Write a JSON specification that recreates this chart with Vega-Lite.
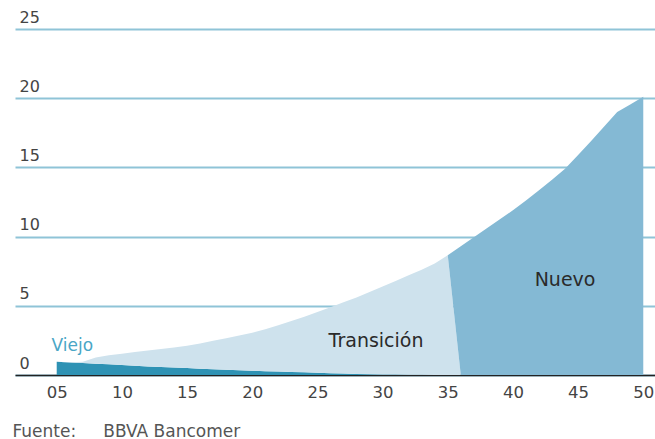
{
  "$schema": "https://vega.github.io/schema/vega-lite/v6.json",
  "autosize": "none",
  "width": 640,
  "height": 346,
  "padding": {"left": 15, "top": 29, "right": 0, "bottom": 64},
  "background": "white",
  "config": {
    "view": {"stroke": null},
    "font": "DejaVu Sans"
  },
  "datasets": {
    "series": [
      {"year": 2005, "Viejo": 0.95, "Transicion": 0.0, "Nuevo": 0},
      {"year": 2006, "Viejo": 0.9, "Transicion": 0.02, "Nuevo": 0},
      {"year": 2007, "Viejo": 0.86, "Transicion": 0.1, "Nuevo": 0},
      {"year": 2008, "Viejo": 0.82, "Transicion": 0.45, "Nuevo": 0},
      {"year": 2009, "Viejo": 0.77, "Transicion": 0.65, "Nuevo": 0},
      {"year": 2010, "Viejo": 0.72, "Transicion": 0.82, "Nuevo": 0},
      {"year": 2011, "Viejo": 0.67, "Transicion": 1.0, "Nuevo": 0},
      {"year": 2012, "Viejo": 0.62, "Transicion": 1.15, "Nuevo": 0},
      {"year": 2013, "Viejo": 0.58, "Transicion": 1.3, "Nuevo": 0},
      {"year": 2014, "Viejo": 0.54, "Transicion": 1.45, "Nuevo": 0},
      {"year": 2015, "Viejo": 0.5, "Transicion": 1.62, "Nuevo": 0},
      {"year": 2016, "Viejo": 0.46, "Transicion": 1.82, "Nuevo": 0},
      {"year": 2017, "Viejo": 0.42, "Transicion": 2.05, "Nuevo": 0},
      {"year": 2018, "Viejo": 0.38, "Transicion": 2.27, "Nuevo": 0},
      {"year": 2019, "Viejo": 0.35, "Transicion": 2.5, "Nuevo": 0},
      {"year": 2020, "Viejo": 0.31, "Transicion": 2.75, "Nuevo": 0},
      {"year": 2021, "Viejo": 0.28, "Transicion": 3.02, "Nuevo": 0},
      {"year": 2022, "Viejo": 0.25, "Transicion": 3.35, "Nuevo": 0},
      {"year": 2023, "Viejo": 0.22, "Transicion": 3.68, "Nuevo": 0},
      {"year": 2024, "Viejo": 0.19, "Transicion": 4.01, "Nuevo": 0},
      {"year": 2025, "Viejo": 0.16, "Transicion": 4.39, "Nuevo": 0},
      {"year": 2026, "Viejo": 0.13, "Transicion": 4.77, "Nuevo": 0},
      {"year": 2027, "Viejo": 0.1, "Transicion": 5.15, "Nuevo": 0},
      {"year": 2028, "Viejo": 0.08, "Transicion": 5.52, "Nuevo": 0},
      {"year": 2029, "Viejo": 0.06, "Transicion": 5.94, "Nuevo": 0},
      {"year": 2030, "Viejo": 0.04, "Transicion": 6.36, "Nuevo": 0},
      {"year": 2031, "Viejo": 0.03, "Transicion": 6.77, "Nuevo": 0},
      {"year": 2032, "Viejo": 0.02, "Transicion": 7.18, "Nuevo": 0},
      {"year": 2033, "Viejo": 0.01, "Transicion": 7.59, "Nuevo": 0},
      {"year": 2034, "Viejo": 0.0, "Transicion": 8.05, "Nuevo": 0},
      {"year": 2035, "Viejo": 0.0, "Transicion": 8.65, "Nuevo": 0},
      {"year": 2036, "Viejo": 0.0, "Transicion": 0, "Nuevo": 9.3},
      {"year": 2037, "Viejo": 0.0, "Transicion": 0, "Nuevo": 9.95},
      {"year": 2038, "Viejo": 0.0, "Transicion": 0, "Nuevo": 10.6},
      {"year": 2039, "Viejo": 0.0, "Transicion": 0, "Nuevo": 11.25},
      {"year": 2040, "Viejo": 0.0, "Transicion": 0, "Nuevo": 11.9},
      {"year": 2041, "Viejo": 0.0, "Transicion": 0, "Nuevo": 12.6},
      {"year": 2042, "Viejo": 0.0, "Transicion": 0, "Nuevo": 13.35},
      {"year": 2043, "Viejo": 0.0, "Transicion": 0, "Nuevo": 14.1},
      {"year": 2044, "Viejo": 0.0, "Transicion": 0, "Nuevo": 14.9},
      {"year": 2045, "Viejo": 0.0, "Transicion": 0, "Nuevo": 15.9},
      {"year": 2046, "Viejo": 0.0, "Transicion": 0, "Nuevo": 16.9},
      {"year": 2047, "Viejo": 0.0, "Transicion": 0, "Nuevo": 17.95},
      {"year": 2048, "Viejo": 0.0, "Transicion": 0, "Nuevo": 19.0},
      {"year": 2049, "Viejo": 0.0, "Transicion": 0, "Nuevo": 19.55},
      {"year": 2050, "Viejo": 0.0, "Transicion": 0, "Nuevo": 20.1}
    ],
    "labels": [
      {"year": 2029.5, "value": 2.04, "label": "Transición"},
      {"year": 2044.0, "value": 6.43, "label": "Nuevo"}
    ],
    "viejo": [
      {"year": 2004.6, "value": 1.76, "label": "Viejo"}
    ]
  },
  "layer": [
    {
      "data": {"name": "series"},
      "transform": [
        {"fold": ["Viejo", "Transicion", "Nuevo"], "as": ["serie", "valor"]},
        {"calculate": "datum.serie === 'Viejo' ? 0 : (datum.serie === 'Transicion' ? 1 : 2)", "as": "orden"}
      ],
      "mark": {"type": "area", "interpolate": "linear"},
      "encoding": {
        "x": {
          "field": "year",
          "type": "quantitative",
          "scale": {"domain": [2001.8, 2050.9], "nice": false, "zero": false},
          "axis": {
            "values": [2005, 2010, 2015, 2020, 2025, 2030, 2035, 2040, 2045, 2050],
            "labelExpr": "slice(toString(datum.value), 2)",
            "grid": false,
            "ticks": false,
            "domain": true,
            "domainColor": "#222222",
            "domainWidth": 1.5,
            "labelFontSize": 16.5,
            "labelColor": "#444444",
            "labelPadding": 9,
            "labelFlush": false,
            "title": "Fuente:\u00a0\u00a0\u00a0\u00a0\u00a0BBVA Bancomer",
            "titleFontSize": 17,
            "titleFontWeight": "normal",
            "titleColor": "#555555",
            "titleAnchor": "start",
            "titleAlign": "left",
            "titleX": -3,
            "titleY": 61,
            "titleBaseline": "alphabetic"
          }
        },
        "y": {
          "field": "valor",
          "type": "quantitative",
          "stack": "zero",
          "scale": {"domain": [0, 25], "nice": false},
          "axis": {
            "values": [0, 5, 10, 15, 20, 25],
            "grid": true,
            "gridColor": "#8fc4d7",
            "gridWidth": 1.8,
            "ticks": false,
            "domain": false,
            "title": null,
            "labelAlign": "left",
            "labelBaseline": "alphabetic",
            "labelPadding": -4,
            "labelOffset": -7,
            "labelFontSize": 16,
            "labelColor": "#444444"
          }
        },
        "color": {
          "field": "serie",
          "type": "nominal",
          "scale": {"domain": ["Viejo", "Transicion", "Nuevo"], "range": ["#2e92b4", "#cee2ed", "#84b9d4"]},
          "legend": null
        },
        "order": {"field": "orden", "type": "quantitative"}
      }
    },
    {
      "data": {"name": "labels"},
      "mark": {"type": "text", "baseline": "alphabetic", "align": "center", "fontSize": 19, "color": "#2a2a2a"},
      "encoding": {
        "x": {"field": "year", "type": "quantitative"},
        "y": {"field": "value", "type": "quantitative"},
        "text": {"field": "label"}
      }
    },
    {
      "data": {"name": "viejo"},
      "mark": {"type": "text", "baseline": "alphabetic", "align": "left", "fontSize": 17, "color": "#4aa6c6"},
      "encoding": {
        "x": {"field": "year", "type": "quantitative"},
        "y": {"field": "value", "type": "quantitative"},
        "text": {"field": "label"}
      }
    }
  ]
}
